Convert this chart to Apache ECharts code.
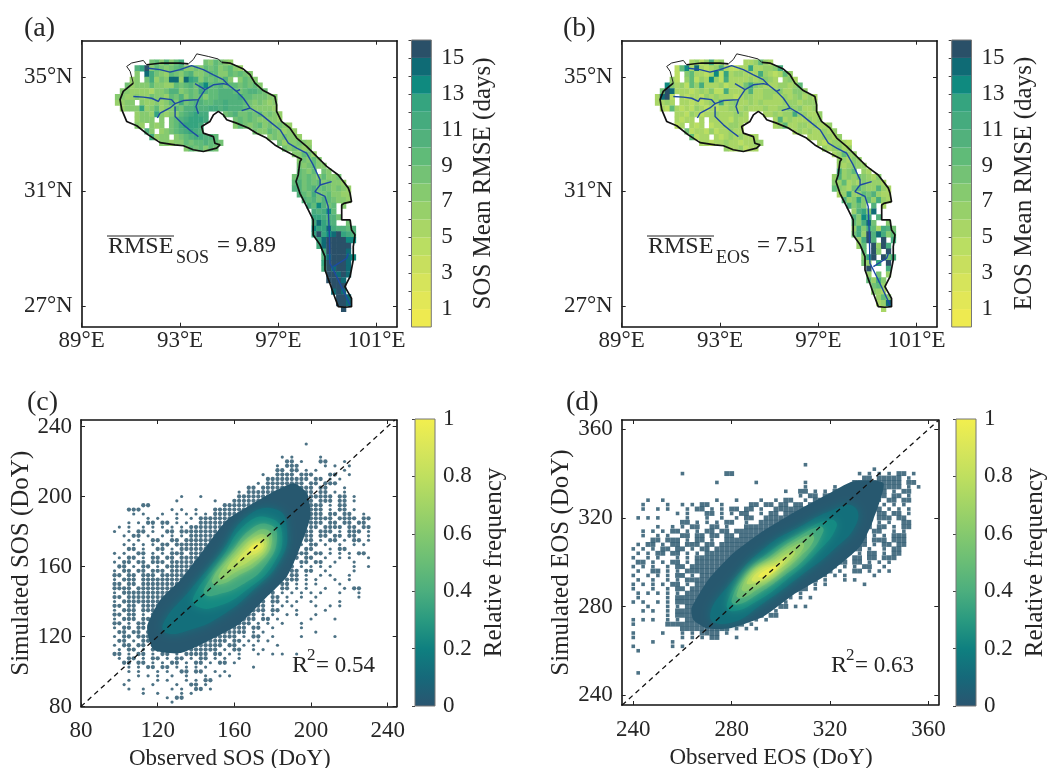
<!DOCTYPE html>
<html>
<head>
<meta charset="utf-8">
<style>
  html, body { margin: 0; padding: 0; background: #fff; }
  #main { width: 1048px; height: 768px; }
</style>
<script src="https://cdn.jsdelivr.net/npm/echarts@6/dist/echarts.min.js"></script>
</head>
<body>
<div id="main"></div>
<script>
// ---- map panels: grid rows, values are RMSE levels 1-16 written as base 17 chars, '.' = no data
const cellDeg = 0.2;
const rowLats = [35.5,35.3,35.1,34.9,34.7,34.5,34.3,34.1,33.9,33.7,33.5,33.3,33.1,32.9,32.7,32.5,32.3,32.1,31.9,31.7,31.5,31.3,31.1,30.9,30.7,30.5,30.3,30.1,29.9,29.7,29.5,29.3,29.1,28.9,28.7,28.5,28.3,28.1,27.9,27.7,27.5,27.3,27.1,26.9];
const rowStartLons = [91.85,91.25,91.25,91.05,90.85,90.65,90.45,90.45,90.65,90.85,91.25,91.25,91.65,91.85,92.25,93.25,97.65,97.85,97.85,97.85,97.65,97.65,97.65,97.85,98.05,98.25,98.45,98.45,98.45,98.45,98.45,98.65,98.65,98.85,98.85,98.85,98.85,99.05,99.05,99.25,99.25,99.45,99.45,99.65];
const sosRows = [
  "9a8b8ac....98a987","bdg8a989ab8898a9a89a87","8.fc987a98ab889aa88a9a98","78.9c798ff7fdc8a9a9b8.8a98",
  "97888a8877a9ab9ceaab9aa9a9a8","8877776889bb89a9cbaabbba9abba9","88778779887a9b8a9a8aabbbbcaa99988","7788.877878a8c9abbaabbcbbba989878",
  "7888d78a788a9bbcbbccbcbbba988887","..7887d8788abcdcc...9ab99a9a8987","7888.8.9abcdddc.....9a9a988887","87.878.9acdddc......8a989a898987",
  "b8.789abcdcb..........988a98787","c788.89abccbba..........8989887","88788a9aabaa9...........9788987","8a9a8a9.............989878",
  "88a97","898a8","989a88","a98a.98","9a9a98a889","ab9a9a89887","bb9ab9a98987","ba9c99a8877","bab9ba9887","caeb9a.8","cbcea.","ddcbb9",
  "cfdcb..9","eddfcbbab","dgdefgdcb","dfggggee","cfggggg","cggggf","bfgggfe","dggggf","cgfggf","ggfgf","gggf","ggg","fgf","ggf","ggf","g"
];
const eosRows = [
  "6757c67....667a76","5ae6f6567b65566d66778c","5.8a6656e5d677666c7656a7","75.7a576e75c6666767876.786",
  "e8675a7c666756669c876667767a","9gf6665676855c6667b66777866887","6fg5.6566576766656776677667678676","6676.66565676c6786676766667776777",
  "65a65657656566776766676677878667","..665765667666776...667677c77667","6566.6.66665766.....6b67666767","56.656.5666776......67a667767667",
  "956657566766..........676766767","a566.656767666..........6667767","6656676656677...........6567765","7667566.............767867",
  "67a77","77687","767877","c78a.76","7b78798768","87a67687776","a8769a877b76","67d77a9b766","b78d8a7c76","c8a8.b.6","7bd8f.","b8ec.b",
  "a8cf9..8","7c8ca6cb9","9c7gbfc8a","7cgb.g.c","7a.g7gc","a.g8.g","8dg.g9c","97.d.g",".g...c","7.9.7","a7c8","9a7","876","7a8","67f","6"
];
const levelColors = ['#eeea50','#e2e757','#d6e45b','#c8df5e','#bade62','#a9d666','#97d06a','#86ca6f','#74c275','#60bb78','#52b17c','#45ab7e','#35a47f','#0f8a7f','#0f6b75','#2a5068'];

// basin outline, lon/lat
const edgeThick = [[91.64,35.42],[92.25,35.48],[93.0,35.48],[93.34,35.45],null,[94.7,35.5],[95.03,35.48],[95.58,35.27],[95.85,35.07],[96.05,34.78],[96.39,34.52],[96.86,34.31],[96.93,34.02],[96.93,33.79],[97.13,33.44],[97.47,33.21],[97.75,32.86],[98.15,32.57],[98.56,32.22],[98.97,31.87],[99.44,31.57],[99.85,31.11],[99.92,30.93],[99.98,30.64],[99.67,30.58],[99.58,30.52],[99.58,30.0],[99.92,30.0],[99.98,29.65],[100.12,29.48],[100.05,29.07],[100.05,28.6],[99.92,28.02],[99.71,27.67],[99.98,27.26],[99.98,26.97],[99.71,26.95],[99.44,26.97],[99.24,27.44],[99.1,27.78],[98.9,28.25],[98.9,28.72],[98.7,29.13],[98.42,29.47],[98.42,30.0],[98.15,30.47],[97.88,30.93],[97.72,31.34],[97.81,31.57],[97.88,32.04],[97.95,32.12],[97.61,32.27],[97.2,32.45],[96.86,32.62],[96.52,32.86],[96.12,33.03],[95.78,33.21],[95.3,33.38],[94.9,33.5],[94.76,33.67],[94.56,33.79],[94.36,33.67],[94.22,33.44],[93.88,33.26],[93.95,33.03],[94.36,32.91],[94.42,32.68],[94.63,32.62],[94.49,32.51],[93.95,32.39],[93.54,32.45],[93.14,32.59],[92.8,32.62],[92.19,32.7],[91.71,32.97],[91.24,33.29],[90.83,33.44],[90.63,33.85],[90.56,34.2],[90.69,34.49],[91.1,34.78]];
const edgeThin = [[91.1,34.78],[90.97,35.19],[90.83,35.36],[91.03,35.48],[91.51,35.57],[91.64,35.42],null,[93.34,35.45],[93.54,35.6],[93.68,35.8],[94.15,35.71],[94.56,35.62],[94.7,35.5]];
const riverLines = [
  [[91.71,35.3],[92.19,35.25],[92.59,35.16],[93.0,35.25],[93.47,35.39],[93.95,35.25],[94.36,35.07],[94.76,34.9],[94.96,34.72],[95.3,34.49],[95.58,34.25],[95.85,33.91],[96.32,33.67],[96.73,33.38],[97.07,33.15],[97.41,32.68],[97.75,32.51],[98.15,32.33],[98.42,31.92],[98.7,31.4],[98.7,31.22],[98.49,30.99],[98.9,30.82],[99.03,30.47],[99.08,29.42],[99.1,28.48],[99.24,28.25],[99.51,27.78],[99.92,27.03]],
  [[91.1,34.31],[91.51,34.29],[91.85,34.25],[92.12,34.14],[92.19,34.25],[92.66,34.2],[92.8,34.06],[93.14,34.17],[93.75,34.2],[94.02,34.55],[94.36,34.72],[94.76,34.76],[94.96,34.72]],
  [[92.08,33.56],[92.19,33.73],[92.59,33.91],[92.8,34.06]],
  [[92.8,33.96],[92.8,33.61],[93.14,33.32],[93.47,33.09],[93.75,32.91]],
  [[93.75,34.2],[93.65,33.96],[93.75,33.71]],
  [[93.61,34.76],[94.02,34.55]],
  [[95.51,33.82],[95.71,33.87],[95.85,33.91]],
  [[95.44,34.55],[95.3,34.49]],
  [[98.7,31.22],[99.17,31.34]],
  [[99.24,28.37],[99.78,28.66],[99.85,28.83]]
];

// ---- scatter panels: outer dots on a DoY lattice ('o' = dots there), rows go downward in y
const sosDotX0 = 97.5, sosDotY0 = 230, sosDotStep = 2.5;
const sosDots = [
"........................................o.............",
"......................................................",
"......................................................",
"...................................o.o.....o...........",
"....................................oo.o...oo...o......",
"..................................o.ooo.....o.o..o.....",
"..................................oo.oo.o.o.....o......",
"...............................o..oooo.ooo...oo..o.....",
"................................ooooooooo.oo.o.o.......",
"..............................o.oooooooo.oo.ooo.......",
"............................oo.ooooooooooo.oo...o.....",
"..........................o.oooooooooooooo.oo.o.o.....",
"..............o...o.......oooooooooooooooooooo.oo.o....",
".............o.......o...ooooooooooooooooo.ooo.oo.o...",
"......oo...............ooooooooooooooooooooo.o.oo.....",
"...ooo......o.o..o...ooooooooooooooooooooooo.o.oo.o...",
"....o.o...o..o.o.o.o.oooooooooooooooooo.oooo.oo.oo..o.",
".......o.o...o..o.ooooooooooooooooooooo.oooooo.oooo.oo",
"...o.o.oo.oo.o.o..oooooooooooooooooooooo.ooo.oo.oo.oo.",
".o.o..o.o.o.o.o.oooooooooooooooooooooooo.oo.oooo.oo.oo",
"o..o.oo.o..oo.oooooooooooooooooooooooo.ooo.ooo.o.ooo.o",
"..o.oo.o..o.o.o.ooooooooooooooooooooooo.oo.oo.oo.oo..o",
"...o.o..oo..oo.oooooooooooooooooooooooo.oo.o.oo.o.oo.o",
"..o.o.o.o.oo.ooooooooooooooooooooooooo.o.oo.o..o..o.o.",
"...oo.o..oo.o.ooooooooooooooooooooooooo.oo...o.oo.....",
"o.o..oo.o.o.ooo.ooooooooooooooooooooooooo.oo.o.o.o.oo.",
".o.oo.o.oo.oo.ooooooooooooooooooooooooo.oo..o..o.o...o",
"o.oo.oo.ooo.oooooooooooooooooooooooooo.oo.oo..o...o...",
".oo.o.oo.o.ooooooooooooooooooooooooooo.o.o.o.o....o..o",
"o.oo.oo.ooo.oooooooooooooooooooooooo.oo.oo..o.....o...",
"oo.oo.ooo.oooooooooooooooooooooooooo.oo.o..o.o...o....",
"o.ooo.ooooooooooooooooooooooooooooo.ooo.o.o...o..o....",
"oo.oo.oooooooooooooooooooooooooooo.oo.o.o.o....o......",
"oooo.ooooooooooooooooooooooooooooo.oo.o.o...o...o.oo..",
"o.oooooooooooooooooooooooooooooooo.o.o.o.o.o...o...o..",
"oo.ooooooooooooooooooooooooooooo.oo.o..o..o........o..",
"o.oooooooooooooooooooooooooooooo.oo.o.o..o.....o......",
"oo.oo.oooooooooooooooooooooooooo.o.o.o....o..o.o......",
"o.ooo.oooooooooooooooooooooooooo.oo...o.....o.........",
"oo.oo.o.oooooooooooooooooooooo.o.o..o.o...o...........",
"o.ooo.oo.ooooooooooooooooooooo.oo.o......o....o.......",
"oo.o.oo.ooooooooooooooooooooo.o.o..o...o..............",
"o.oo.oo.ooo.oooooooooooooooo.oo..o.....o..............",
".oo.oo.oo.oo.ooooooooooooooo.o.o..........o...........",
"o.oo.ooo.o.ooooooooooooooo.o.oo..o.....o......o.......",
".oo.o.oo.ooooo.ooooooooo.oo.o.o.o.....................",
"o.oo.oo.oo.o.oooooooooo.oo.o.o....o...................",
".o.oo.o.oo.oooo.oooooo.o.oo..o.o......................",
"oo.o.oo.o.oo.o.ooooo.oo.o.o...o..o.o..o...............",
".o.oo.o.oo.o.oo.o.oo.o.o..o...........................",
"..oo.oo.o.o.oo.o.oo.o.oo.o............................",
"...o.o.oo.oo.o.o.o.o.........o........................",
"...o.o...o.o..oo.oo..o.o..............................",
".....o.o.o..o..o...o..o.o.............................",
"...o.....o.o...o.o.oo.................................",
"..o.....o....o..oo.o..................................",
"...o..o.....o.o..oo.o.................................",
"......o..o....o.o.....................................",
"...........o.oo.......................................",
"............o........................................."
];
const eosDotX0 = 240, eosDotY0 = 344, eosDotStep = 2;
const eosDots = [
"...................................o.....................",
".................................................o.......",
"..........o........oo.........................o.o.o.o.oo.o",
"...............................................oo.ooooo.o",
".................o.......o.........o.........oooooooooo.oo",
"...................................o.....o...oooooooooo.o.o",
"...............................o..oo.o.o.ooooooooooo.o.oo",
"..................................o.oo.oooooooooo.oo.oo.o",
"...o..o..........o...o....o..o.oo..o.oooooooooooo.o.oo.oo",
"..o....o..o.o.oo..o.....oo.oo.oo.oo.ooooooooo.ooo..o.o.o",
"..o..o.o...o.oo.o.o.oo.oo.o..ooooooooooooooooo.o.oo.o.o.o",
".........o.o...oo.o.o.oo..o.oo.oooooooooooooooooo.oo.oo.o",
".o.o.o.....o...o..o..o.oo..oooooooooooooooooooooo.ooo.oo.",
"..........oo.o.o.o.oo..o..ooooooooooooooooooooooo.o.o..oo",
".....o..o.o.oo..oo.o...oooooooooooooooooooooooooo.oo.o.oo",
"..o.o.o.oo.o.o.oo.oo.ooooooooooooooooooooooooooo.oo..o.o",
"..o..o.o..oo.oo.oo.oo.oooooooooooooooooooooooooo.o.o.ooo",
"....oo.ooo.o.oo.o..ooooooooooooooooooooooooooooo.ooo.ooo",
".o.oo.o.oo.ooo.oo.oooooooooooooooooooooooooooooo.o.oo.oo",
"o.o.o.oo.oo.o.oo.ooooooooooooooooooooooooooo.oo.o..o.oo.",
".o.o.oo.oo.o.o.oooooooooooooooooooooooooooo.o.o.oo.o.oo",
"o..o.o...o.o.ooooooooooooooooooooooooooooo.o.oo.oo.ooo",
".oo.o.o.oo.o.ooooooooooooooooooooooooooo..oo.oo.o.o.o",
"o.o.o..o.oo.oooooooooooooooooooooooooooo.o.o.o.oo..o",
".o..oo.o.o.oooooooooooooooooooooooooooooo.o..oo.o.o.o",
"o..o.o.o.oo.o.oooooooooooooooooooooooo.o.o.o.....o..",
".o..o..o.o.ooooooooooooooooooooooooooo.o...o.o......",
"o.o.o.o.oo.o.ooooooooooooooooooooooo.o.o.......o....",
"o...o..o.oo.ooooooooooooooooooooo.oo.o..............",
".o.o.o.o.o.oooooooooooooooooooo.o.o.................",
".o.....o.oooooooooooooooooooo.o.o.o.o...............",
"o.o..o.o.oooooooooooooooooo.oo.o....................",
"...o...o.o.oooooooooooooooo.o.oo.o.o................",
"..o.o..o.ooooooooooooooooo.o.o......................",
".......o.ooooooooooooooo.oo.oo......................",
"o.o.o..o.o.ooooooooooooo.o.o........................",
"o......ooooooooooooo.oo.o...........................",
"..........oooooooooo.o.o.o..........................",
"o.....o...o.o.oooo.o................................",
"o.........o.o.o.oo...o..............................",
"....o...o...........................................",
"o.......o.o.........................................",
".o..................................................",
"....................................................",
"....................................................",
"....................................................",
"....................................................",
".o.................................................."
];

// density bands [outer ... inner] in DoY
const bandValues = [0.02,0.12,0.25,0.38,0.5,0.62,0.75,0.87,0.96];
const bandColors = ['#27586f','#136f7b','#148a82','#3ea67f','#69bd76','#8ccc6c','#b0da62','#d2e45b','#ecec50'];
const sosBands = [
  [[114.5,125.7],[121.4,141],[131.9,152.4],[144,169.5],[156.2,186.7],[168.4,195.2],[182.3,203.8],[191,207.6],[198,201.9],[199.7,188.6],[194.5,171.4],[187.5,154.3],[177.1,142.8],[163.2,127.6],[147.5,118.1],[131.9,110.5],[117.9,112.4]],
  [[123,127.6],[137,146.7],[152.7,167.6],[166.6,188.6],[182.3,192.4],[187.5,180.9],[184,163.8],[170.1,146.7],[152.7,131.4],[137,123.8],[124.9,121.9]],
  [[138.8,142.8],[152.7,163.8],[166.6,184.8],[178.8,187.6],[184.9,179],[180.6,161.9],[166.6,146.7],[151,137.1],[140.5,137.1]],
  [[144.9,148.6],[158,167.6],[169.2,181.9],[178.5,183.8],[182.3,176.8],[177.1,161.9],[164,149.5],[151,143.8],[144.9,143.8]],
  [[148.4,152.4],[158,165.7],[170.1,179],[177.1,181],[179.7,175.2],[174.5,163.8],[161.4,154.3],[151,149.5]],
  [[151.9,155.2],[161.4,167.6],[171,177.1],[176.2,178],[178,173.3],[171.9,163.8],[159.7,156.2],[153.6,152.4]],
  [[156.2,159],[164,168.6],[171,174.8],[175.7,176.2],[176.4,171.4],[170.1,164.8],[160.5,159]],
  [[161.4,162.8],[167.5,170.5],[172.7,174.3],[175.3,173],[173.6,169.1],[167.5,165.7]],
  [[167.5,169.5],[171.8,173],[173.9,171.8],[171,169.1]]
];
const eosBands = [
  [[263.7,279.3],[270.5,292.1],[280.7,304.1],[291.5,313.1],[303.7,321.4],[318.6,330.4],[329.5,336.5],[341.7,335.7],[337.6,319.2],[332.2,307.1],[318.6,294.3],[305.1,285.3],[292.9,275.5],[279.3,270.2],[269.8,270.2],[264.4,274]],
  [[271.2,275.5],[280.7,292.1],[294.2,307.1],[307.8,316.1],[321.4,323.7],[329.5,325.2],[330.8,317.6],[321.4,305.6],[307.8,293.6],[292.9,281.5],[279.3,272.5]],
  [[278,280.8],[284.7,293.6],[295.6,304.9],[307.8,313.1],[320,319.2],[322.7,316.1],[314.6,304.1],[302.4,292.1],[290.2,282.3],[280.7,277.8]],
  [[280,283],[286.1,294.3],[295.6,302.6],[306.4,310.9],[315.9,316.1],[317.3,313.9],[310.5,302.6],[301,293.6],[290.2,285.3],[282,280.8]],
  [[282,285.3],[287.5,295.1],[295.6,301.1],[305.1,308.6],[312.5,312.4],[313.2,309.4],[307.8,302.6],[299.7,295.1],[290.2,287.5],[284.1,283.8]],
  [[284.1,288.3],[288.8,295.8],[296.3,300.3],[303.7,306.4],[309.1,308.6],[307.8,304.1],[298.3,295.8],[290.2,289.8],[285.4,286.8]],
  [[286.1,290.6],[290.8,296.6],[297,299.6],[303,304.1],[305.8,304.9],[303.7,301.1],[297,295.1],[289.5,290.6]],
  [[288.1,292.1],[292.2,296.6],[297.6,298.8],[301.7,301.8],[301,299.6],[295.6,294.3],[290.2,291.3]],
  [[290.8,293.6],[294.2,296.6],[298.3,298.1],[297,295.8],[292.9,293.3]]
];
const freqStops = [[0,'#2a5570'],[0.1,'#16697a'],[0.2,'#0f8080'],[0.3,'#2a9a80'],[0.4,'#4cae7e'],[0.5,'#69bd76'],[0.6,'#85c96e'],[0.7,'#a2d466'],[0.8,'#bfdf5f'],[0.9,'#d9e65a'],[1,'#f2ef4e']];

const lonTicks = [89,93,97,101];
const latTicks = [27,31,35];
const sosTicks = [80,120,160,200,240];
const eosTicks = [240,280,320,360];
const rmseTicks = [1,3,5,7,9,11,13,15];
const rmseBands = [1,2,3,4,5,6,7,8,9,10,11,12,13,14,15,16];
const freqTicks = [0,0.2,0.4,0.6,0.8,1];

const FONT = 'Liberation Serif';
const INK = '#262626';

let grid = [], xAxis = [], yAxis = [], series = [];

// one framed panel: x/y main axes plus mirrored ticks top and right
function addPanel(box, x, y) {
  let g = grid.length;
  grid.push({left: box[0], top: box[1], width: box[2]-box[0], height: box[3]-box[1], containLabel: false, outerBoundsMode: 'none'});
  let line = {show: true, onZero: false, lineStyle: {color: '#111', width: 1.6}};
  let tick = v => ({show: true, inside: true, length: 4, customValues: v, lineStyle: {color: '#222', width: 1}});
  let xi = xAxis.length, yi = yAxis.length;
  xAxis.push({
    type: 'value', gridIndex: g, min: x.min, max: x.max, position: 'bottom', axisLine: line, axisTick: tick(x.ticks), splitLine: {show: false},
    axisLabel: {customValues: x.ticks, formatter: x.fmt, margin: x.margin, fontFamily: FONT, fontSize: 23, color: INK, hideOverlap: false},
    // the printed title sits a little left of the axis centre
    name: x.name, nameLocation: 'middle', nameGap: 41, nameTextStyle: {fontFamily: FONT, fontSize: 23, color: INK, padding: [0, 18, 0, 0]}
  });
  xAxis.push({type: 'value', gridIndex: g, min: x.min, max: x.max, position: 'top', axisLine: line, axisTick: tick(x.ticks), axisLabel: {show: false}, splitLine: {show: false}});
  yAxis.push({
    type: 'value', gridIndex: g, min: y.min, max: y.max, position: 'left', axisLine: line, axisTick: tick(y.ticks), splitLine: {show: false},
    axisLabel: {customValues: y.ticks, formatter: y.fmt, margin: 9, fontFamily: FONT, fontSize: 23, color: INK, hideOverlap: false},
    name: y.name, nameLocation: 'middle', nameGap: 46, nameTextStyle: {fontFamily: FONT, fontSize: 25, color: INK}
  });
  yAxis.push({type: 'value', gridIndex: g, min: y.min, max: y.max, position: 'right', axisLine: line, axisTick: tick(y.ticks), axisLabel: {show: false}, splitLine: {show: false}});
  return {xAxisIndex: xi, yAxisIndex: yi};
}

// colour bar as its own small cartesian panel
function addBar(box, min, max, labels, ticks, name, nameGap, margin) {
  let g = grid.length;
  grid.push({left: box[0], top: box[1], width: box[2]-box[0], height: box[3]-box[1], show: true, borderColor: '#777', borderWidth: 1, containLabel: false, outerBoundsMode: 'none', z: 5});
  let xi = xAxis.length, yi = yAxis.length;
  xAxis.push({type: 'value', gridIndex: g, min: 0, max: 1, show: false});
  yAxis.push({
    type: 'value', gridIndex: g, min: min, max: max, position: 'right', splitLine: {show: false}, axisLine: {show: false},
    axisTick: {show: true, inside: true, length: 3, customValues: ticks, lineStyle: {color: '#444', width: 1}},
    axisLabel: {customValues: labels, margin: margin, fontFamily: FONT, fontSize: 23, color: INK, hideOverlap: false},
    name: name, nameLocation: 'middle', nameRotate: 90, nameGap: nameGap, nameTextStyle: {fontFamily: FONT, fontSize: 25, color: INK}
  });
  return {xAxisIndex: xi, yAxisIndex: yi};
}

function mapCells(rows) {
  let out = [];
  rows.forEach((s, i) => {
    for (let k = 0; k < s.length; k++) {
      if (s[k] !== '.') out.push([rowStartLons[i] + k*cellDeg, rowLats[i], parseInt(s[k], 17)]);
    }
  });
  return out;
}

function addMap(ax, rows) {
  series.push(Object.assign({
    type: 'custom', silent: true, animation: false, progressive: 0, clip: true, data: mapCells(rows), encode: {x: 0, y: 1},
    renderItem: (params, api) => {
      let p = api.coord([api.value(0), api.value(1)]);
      let s = api.size([cellDeg, cellDeg]);
      return {type: 'rect', shape: {x: p[0]-s[0]/2, y: p[1]-s[1]/2, width: s[0]+0.4, height: s[1]+0.4}, style: {fill: levelColors[api.value(2)-1]}};
    }
  }, ax));
  let lineOf = (data, w, color) => Object.assign({
    type: 'line', silent: true, animation: false, symbol: 'none', connectNulls: false, data: data,
    lineStyle: {color: color, width: w}
  }, ax);
  let breakUp = d => d.map(p => p === null ? [null, null] : p);
  series.push(lineOf(breakUp(edgeThick), 1.7, '#111'));
  series.push(lineOf(breakUp(edgeThin), 1, '#222'));
  riverLines.forEach(r => series.push(lineOf(r, 1.4, '#1d4aa3')));
}

function addBarLevels(ax) {
  series.push(Object.assign({
    type: 'custom', silent: true, animation: false, data: rmseBands.map(b => [b]),
    renderItem: (params, api) => {
      let lvl = api.value(0);
      let a = api.coord([0, lvl-1]), b = api.coord([1, lvl]);
      return {type: 'rect', shape: {x: a[0], y: b[1], width: b[0]-a[0], height: a[1]-b[1]}, style: {fill: levelColors[lvl-1]}};
    }
  }, ax));
}

function addBarGradient(ax) {
  series.push(Object.assign({
    type: 'custom', silent: true, animation: false, data: [[0]],
    renderItem: (params, api) => {
      let a = api.coord([0, 0]), b = api.coord([1, 1]);
      let fill = new echarts.graphic.LinearGradient(0, 1, 0, 0, freqStops.map(s => ({offset: s[0], color: s[1]})));
      return {type: 'rect', shape: {x: a[0], y: b[1], width: b[0]-a[0], height: a[1]-b[1]}, style: {fill: fill}};
    }
  }, ax));
}

// splits the lattice into lone dots and dots touching a neighbour in their row
function latticeDots(rows, x0, y0, step) {
  let lone = [], packed = [];
  rows.forEach((s, i) => {
    for (let k = 0; k < s.length; k++) {
      if (s[k] !== 'o') continue;
      let p = [x0 + k*step, y0 - i*step];
      if (s[k-1] === 'o' || s[k+1] === 'o') packed.push(p); else lone.push(p);
    }
  });
  return {lone: lone, packed: packed};
}

function addScatter(ax, dots, bands, sizes, dotShape, oneLine) {
  let dotSeries = (d, size) => Object.assign({
    type: 'scatter', silent: true, animation: false, data: d, symbol: dotShape, symbolSize: size, itemStyle: {color: '#1f4f66'}, progressive: 0
  }, ax);
  series.push(dotSeries(dots.lone, sizes[0]));
  series.push(dotSeries(dots.packed, sizes[1]));
  series.push(Object.assign({
    type: 'custom', silent: true, animation: false, clip: true, data: bandValues.map(v => [v]), z: 3,
    renderItem: (params, api) => {
      let i = params.dataIndex;
      let pts = bands[i].map(p => api.coord(p));
      return {
        type: 'polygon', shape: {points: pts, smooth: i === 0 ? 0.2 : 0.5},
        style: {fill: bandColors[i], shadowBlur: i === 0 ? 0 : 10, shadowColor: bandColors[i]}
      };
    }
  }, ax));
  series.push(Object.assign({
    type: 'line', silent: true, animation: false, symbol: 'none', data: oneLine, z: 4,
    lineStyle: {color: '#111', width: 1.3, type: [5, 4]}
  }, ax));
}

// ---- (a) and (b)
const lonRange = {min: 89, max: 101.83, ticks: lonTicks, fmt: v => v + '°E', margin: 3};
const latRange = {min: 26.27, max: 36.26, ticks: latTicks, fmt: v => v + '°N'};
addMap(addPanel([81.7, 40.7, 397, 326.7], lonRange, latRange), sosRows);
addBarLevels(addBar([411.5, 40, 431.3, 327], 0, 16, rmseTicks, rmseBands, 'SOS Mean RMSE (days)', 40, 10));
addMap(addPanel([621.7, 40.7, 937, 326.7], lonRange, latRange), eosRows);
addBarLevels(addBar([951.7, 40, 971.5, 327], 0, 16, rmseTicks, rmseBands, 'EOS Mean RMSE (days)', 40, 10));

// ---- (c) and (d)
addScatter(addPanel([81, 420, 396.7, 706.5],
  {min: 80, max: 244.7, ticks: sosTicks, margin: 13, name: 'Observed SOS (DoY)'},
  {min: 80, max: 243.7, ticks: sosTicks, name: 'Simulated SOS (DoY)'}),
  latticeDots(sosDots, sosDotX0, sosDotY0, sosDotStep), sosBands, [3.2, 4.3], 'circle', [[80, 80], [243.7, 243.7]]);
addBarGradient(addBar([415, 419, 435, 706], 0, 1, freqTicks, freqTicks, 'Relative frequency', 47, 8));
addScatter(addPanel([621.7, 420, 938.3, 705],
  {min: 235.3, max: 364, ticks: eosTicks, margin: 13, name: 'Observed EOS (DoY)'},
  {min: 235.5, max: 364.2, ticks: eosTicks, name: 'Simulated EOS (DoY)'}),
  latticeDots(eosDots, eosDotX0, eosDotY0, eosDotStep), eosBands, [3.6, 4.9], 'rect', [[235.5, 235.5], [364, 364]]);
addBarGradient(addBar([956, 419, 976, 706], 0, 1, freqTicks, freqTicks, 'Relative frequency', 47, 8));

// ---- panel letters and the small statistics
function txt(x, y, s, size) {
  return {type: 'text', x: x, y: y, silent: true, style: {text: s, fontFamily: FONT, fontSize: size, fill: INK, verticalAlign: 'middle'}};
}
function rmseNote(dx, sub, val) {
  return [
    txt(108+dx, 247, 'RMSE', 24),
    txt(176+dx, 258, sub, 18),
    txt(217+dx, 246, '= ' + val, 23),
    {type: 'line', silent: true, shape: {x1: 107+dx, y1: 236, x2: 174+dx, y2: 236}, style: {stroke: '#222', lineWidth: 1}}
  ];
}
function r2Note(x, y, val) {
  return [txt(x, y, 'R', 24), txt(x+15, y-10, '2', 17), txt(x+24, y, '= ' + val, 23)];
}
const labels = [].concat(
  [txt(24, 29, '(a)', 28), txt(563, 29, '(b)', 28), txt(27, 403, '(c)', 28), txt(566, 403, '(d)', 28)],
  rmseNote(0, 'SOS', '9.89'), rmseNote(540, 'EOS', '7.51'),
  r2Note(292, 666, '0.54'), r2Note(831, 666, '0.63')
);

const myChart = echarts.init(document.getElementById('main'), null, {renderer: 'canvas'});
myChart.setOption({
  backgroundColor: '#fff',
  animation: false,
  textStyle: {fontFamily: FONT},
  grid: grid, xAxis: xAxis, yAxis: yAxis, series: series,
  graphic: {elements: labels}
});
</script>
</body>
</html>
